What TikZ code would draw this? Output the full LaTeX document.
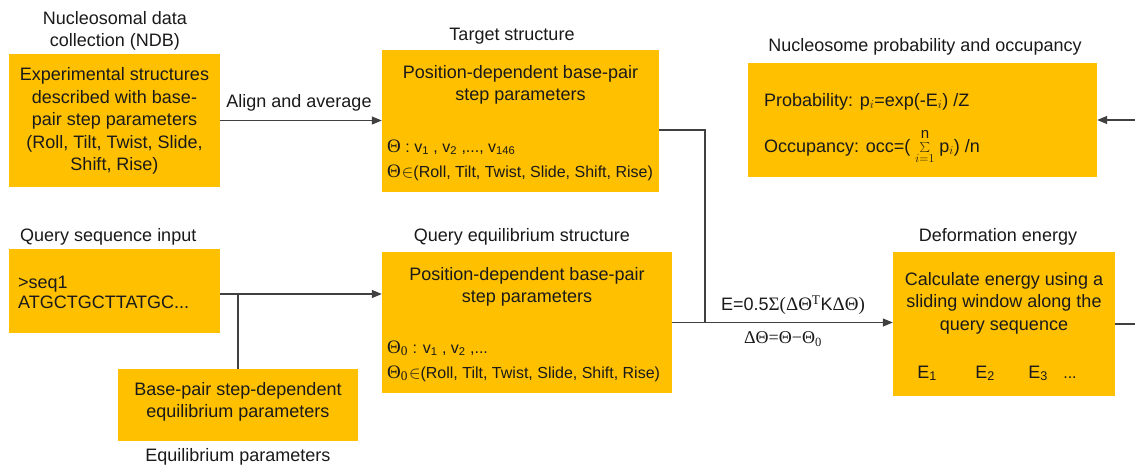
\documentclass[tikz,border=0pt]{standalone}
\usepackage{fontspec}
\setmainfont{Liberation Sans}
\newfontfamily\serifgr{Liberation Serif}
\usetikzlibrary{arrows.meta}
\definecolor{boxfill}{HTML}{FFC000}
\definecolor{linec}{HTML}{404040}
\definecolor{txt}{HTML}{1A1A1A}
\newcommand{\gk}[1]{{\fontsize{19}{19}\serifgr #1}}
\begin{document}
\begin{tikzpicture}[x=1pt,y=-1pt,
  every node/.style={font=\fontsize{18}{22.5}\selectfont, text=txt, inner sep=0pt},
  box/.style={fill=boxfill, draw=none, inner sep=0pt},
  conn/.style={draw=linec, line width=1.2pt},
  arr/.style={conn, -{Triangle[length=10pt,width=8pt]}},
  small/.style={font=\fontsize{16}{19}\selectfont},
  lbl/.style={align=center}]
\useasboundingbox (0,0) rectangle (1135,469);
\fill[white] (0,0) rectangle (1135,469);
\clip (0,0) rectangle (1135,469);

% boxes
\node[box, minimum width=211pt, minimum height=133pt] (exp) at (114.5,120.5) {};
\node[box, minimum width=277pt, minimum height=142pt] (tgt) at (520.5,121) {};
\node[box, minimum width=349pt, minimum height=114pt] (nuc) at (922.5,120) {};
\node[box, minimum width=211pt, minimum height=84pt] (qin) at (114.5,291) {};
\node[box, minimum width=290pt, minimum height=141pt] (qeq) at (527,322.5) {};
\node[box, minimum width=240pt, minimum height=72pt] (bp) at (238,405) {};
\node[box, minimum width=222pt, minimum height=144pt] (def) at (1004,324) {};

% titles
\node[lbl] (t1) at (115,31) {Nucleosomal data\\collection (NDB)};
\node (t2) at (512,36) {Target structure};
\node (t3) at (925,47) {Nucleosome probability and occupancy};
\node[anchor=base west] (t4) at (20,241) {Query sequence input};
\node (t5) at (522,237) {Query equilibrium structure};
\node (t6) at (998,237) {Deformation energy};
\node (t7) at (238,457) {Equilibrium parameters};

% box texts
\node[lbl] (x1) at (114.5,121) {Experimental structures\\described with base-\\pair step parameters\\(Roll, Tilt, Twist, Slide,\\Shift, Rise)};
\node[lbl] (x2) at (520.5,85) {Position-dependent base-pair\\step parameters};
\node[small, anchor=base west] (x3) at (387,152) {\gk{Θ} : v\textsubscript{1} , v\textsubscript{2} ,..., v\textsubscript{146}};
\node[small, anchor=base west] (x4) at (387,177) {\gk{Θ}\hspace{1pt}$\in$(Roll, Tilt, Twist, Slide, Shift, Rise)};
\node[anchor=base west] (x5) at (764,106) {Probability: p$_i$=exp(-E$_i$) /Z};
\node[anchor=base west] (x6) at (764,152) {Occupancy: occ=( $\sum\limits_{i=1}^{\raisebox{2pt}{\fontsize{15}{15}\selectfont n}}$ p$_i$) /n};
\node[align=left, anchor=west, font=\fontsize{18}{19.5}\selectfont] (x7) at (18,292.5) {>seq1\\ATGCTGCTTATGC...};
\node[lbl] (x8) at (527,287) {Position-dependent base-pair\\step parameters};
\node[small, anchor=base west] (x9) at (387,353) {\gk{Θ\textsubscript{0}} : v\textsubscript{1} , v\textsubscript{2} ,...};
\node[small, anchor=base west] (x10) at (387,378) {\gk{Θ\textsubscript{0}}\hspace{1pt}$\in$(Roll, Tilt, Twist, Slide, Shift, Rise)};
\node[lbl] (x11) at (238,402) {Base-pair step-dependent\\equilibrium parameters};
\node[lbl] (x12) at (1004,303) {Calculate energy using a\\sliding window along the\\query sequence};
\node[anchor=base] (e1) at (927,378) {E\textsubscript{1}};
\node[anchor=base] (e2) at (985,378) {E\textsubscript{2}};
\node[anchor=base] (e3) at (1038,378) {E\textsubscript{3}};
\node[anchor=base, small] (e4) at (1070,378) {...};

% connector labels
\node (l1) at (299,103) {Align and average};
\node (l2) at (793,305) {E=0.5{\fontsize{19}{19}\serifgr Σ(ΔΘ\textsuperscript{T}}K{\fontsize{19}{19}\serifgr ΔΘ)}};
\node[font=\fontsize{18}{18}\selectfont] (l3) at (783,339) {\serifgr ΔΘ=Θ−Θ\textsubscript{0}};

% connectors
\coordinate (J) at (705,323);
\coordinate (Q) at (238,294);
\coordinate (R1) at (1150,324);
\coordinate (R2) at (1150,120);
\draw[arr] (exp.east) -- (exp.east -| tgt.west);
\draw[conn] ([yshift=-9pt]tgt.east) -| (J);
\draw[arr] (qeq.east) -- (qeq.east -| def.west);
\draw[arr] ([yshift=-3pt]qin.east) -- ([yshift=-3pt]qin.east -| qeq.west);
\draw[conn] (bp.north) -- (Q);
\draw[arr] (def.east) -- (R1) -- (R2) -- (nuc.east);
\end{tikzpicture}
\end{document}
